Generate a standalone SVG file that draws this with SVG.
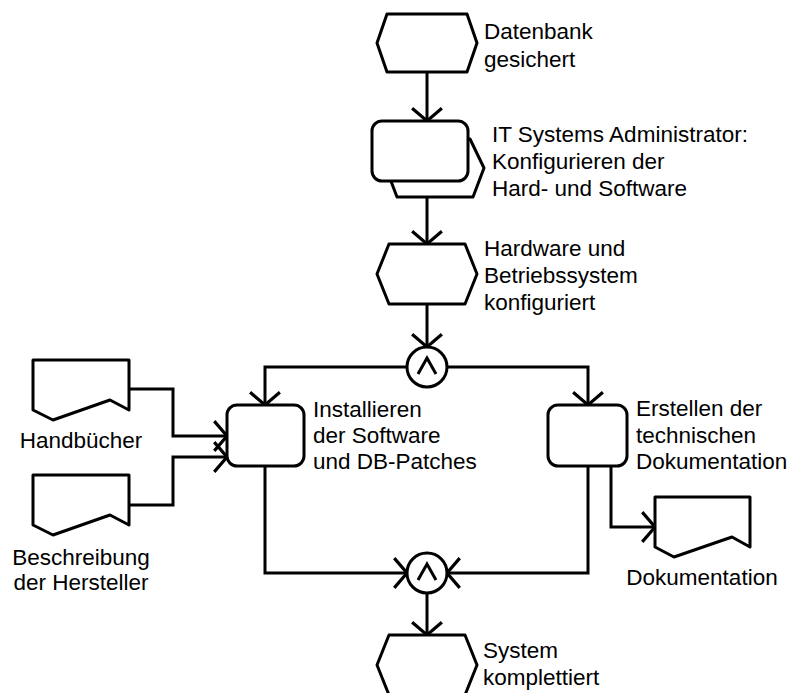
<svg xmlns="http://www.w3.org/2000/svg" width="793" height="693" viewBox="0 0 793 693">
  <defs>
    <style>
      .shape { fill: #ffffff; stroke: #000000; stroke-width: 3; stroke-linejoin: round; }
      .line { fill: none; stroke: #000000; stroke-width: 3; }
      .label { font-family: "Liberation Sans", Arial, sans-serif; font-size: 22.5px; fill: #000000; }
      .mid { text-anchor: middle; }
    </style>
    <marker id="arrow" markerUnits="userSpaceOnUse" markerWidth="30" markerHeight="34" viewBox="-15 -16 18 32" refX="0" refY="0" orient="auto">
      <path d="M -12 -14 L 0 0 L -12 14" fill="none" stroke="#000000" stroke-width="3"/>
    </marker>
  </defs>
  <rect width="793" height="693" fill="#ffffff"/>

  <!-- connectors -->
  <g id="connectors">
    <path class="line" d="M 427 72 L 427 121" marker-end="url(#arrow)"/>
    <path class="line" d="M 427 197 L 427 244" marker-end="url(#arrow)"/>
    <path class="line" d="M 427 304 L 427 347" marker-end="url(#arrow)"/>
    <path class="line" d="M 407 367 L 265 367 L 265 405" marker-end="url(#arrow)"/>
    <path class="line" d="M 447 367 L 588 367 L 588 405" marker-end="url(#arrow)"/>
    <path class="line" d="M 129 389 L 173 389 L 173 436 L 227 436" marker-end="url(#arrow)"/>
    <path class="line" d="M 129 505 L 173 505 L 173 457 L 227 457" marker-end="url(#arrow)"/>
    <path class="line" d="M 265 466 L 265 573 L 407 573" marker-end="url(#arrow)"/>
    <path class="line" d="M 588 466 L 588 573 L 447 573" marker-end="url(#arrow)"/>
    <path class="line" d="M 611 466 L 611 527 L 655 527" marker-end="url(#arrow)"/>
    <path class="line" d="M 427 593 L 427 635" marker-end="url(#arrow)"/>
  </g>

  <!-- events -->
  <g id="ev-db-saved">
    <polygon class="shape" points="387,14 467,14 477,43 467,72 387,72 377,43"/>
    <text class="label" x="484" y="39">Datenbank</text>
    <text class="label" x="484" y="67">gesichert</text>
  </g>

  <g id="fn-configure">
    <polygon class="shape" points="397,139 470,139 484,168 473,197 397,197 386,168"/>
    <rect class="shape" x="372" y="121" width="96" height="60" rx="10" ry="10"/>
    <text class="label" x="492" y="142">IT Systems Administrator:</text>
    <text class="label" x="492" y="169">Konfigurieren der</text>
    <text class="label" x="492" y="196">Hard- und Software</text>
  </g>

  <g id="ev-hw-configured">
    <polygon class="shape" points="389,244 465,244 477,274 465,304 389,304 377,274"/>
    <text class="label" x="484" y="256">Hardware und</text>
    <text class="label" x="484" y="283">Betriebssystem</text>
    <text class="label" x="484" y="310">konfiguriert</text>
  </g>

  <g id="and-split">
    <circle class="shape" cx="427" cy="367" r="20"/>
    <path class="line" d="M 418 374 L 427 358 L 436 374"/>
  </g>

  <g id="doc-manuals">
    <path class="shape" d="M 33 360 L 129 360 L 129 410 L 110 400 L 53 420 L 33 410 Z"/>
    <text class="label mid" x="81" y="448">Handbücher</text>
  </g>

  <g id="doc-vendor">
    <path class="shape" d="M 33 475 L 129 475 L 129 525 L 110 515 L 53 535 L 33 525 Z"/>
    <text class="label mid" x="81" y="565">Beschreibung</text>
    <text class="label mid" x="81" y="590">der Hersteller</text>
  </g>

  <g id="fn-install">
    <rect class="shape" x="227" y="405" width="77" height="61" rx="10" ry="10"/>
    <text class="label" x="313" y="417">Installieren</text>
    <text class="label" x="313" y="443">der Software</text>
    <text class="label" x="313" y="469">und DB-Patches</text>
  </g>

  <g id="fn-document">
    <rect class="shape" x="548" y="405" width="79" height="61" rx="10" ry="10"/>
    <text class="label" x="636" y="416">Erstellen der</text>
    <text class="label" x="636" y="443">technischen</text>
    <text class="label" x="636" y="469">Dokumentation</text>
  </g>

  <g id="doc-documentation">
    <path class="shape" d="M 655 497 L 750 497 L 750 547 L 732 537 L 674 557 L 655 547 Z"/>
    <text class="label mid" x="702" y="585">Dokumentation</text>
  </g>

  <g id="and-join">
    <circle class="shape" cx="427" cy="573" r="20"/>
    <path class="line" d="M 418 580 L 427 564 L 436 580"/>
  </g>

  <g id="ev-system-complete">
    <polygon class="shape" points="389,635 465,635 477,665 465,695 389,695 377,665"/>
    <text class="label" x="483" y="658">System</text>
    <text class="label" x="483" y="685">komplettiert</text>
  </g>
</svg>
